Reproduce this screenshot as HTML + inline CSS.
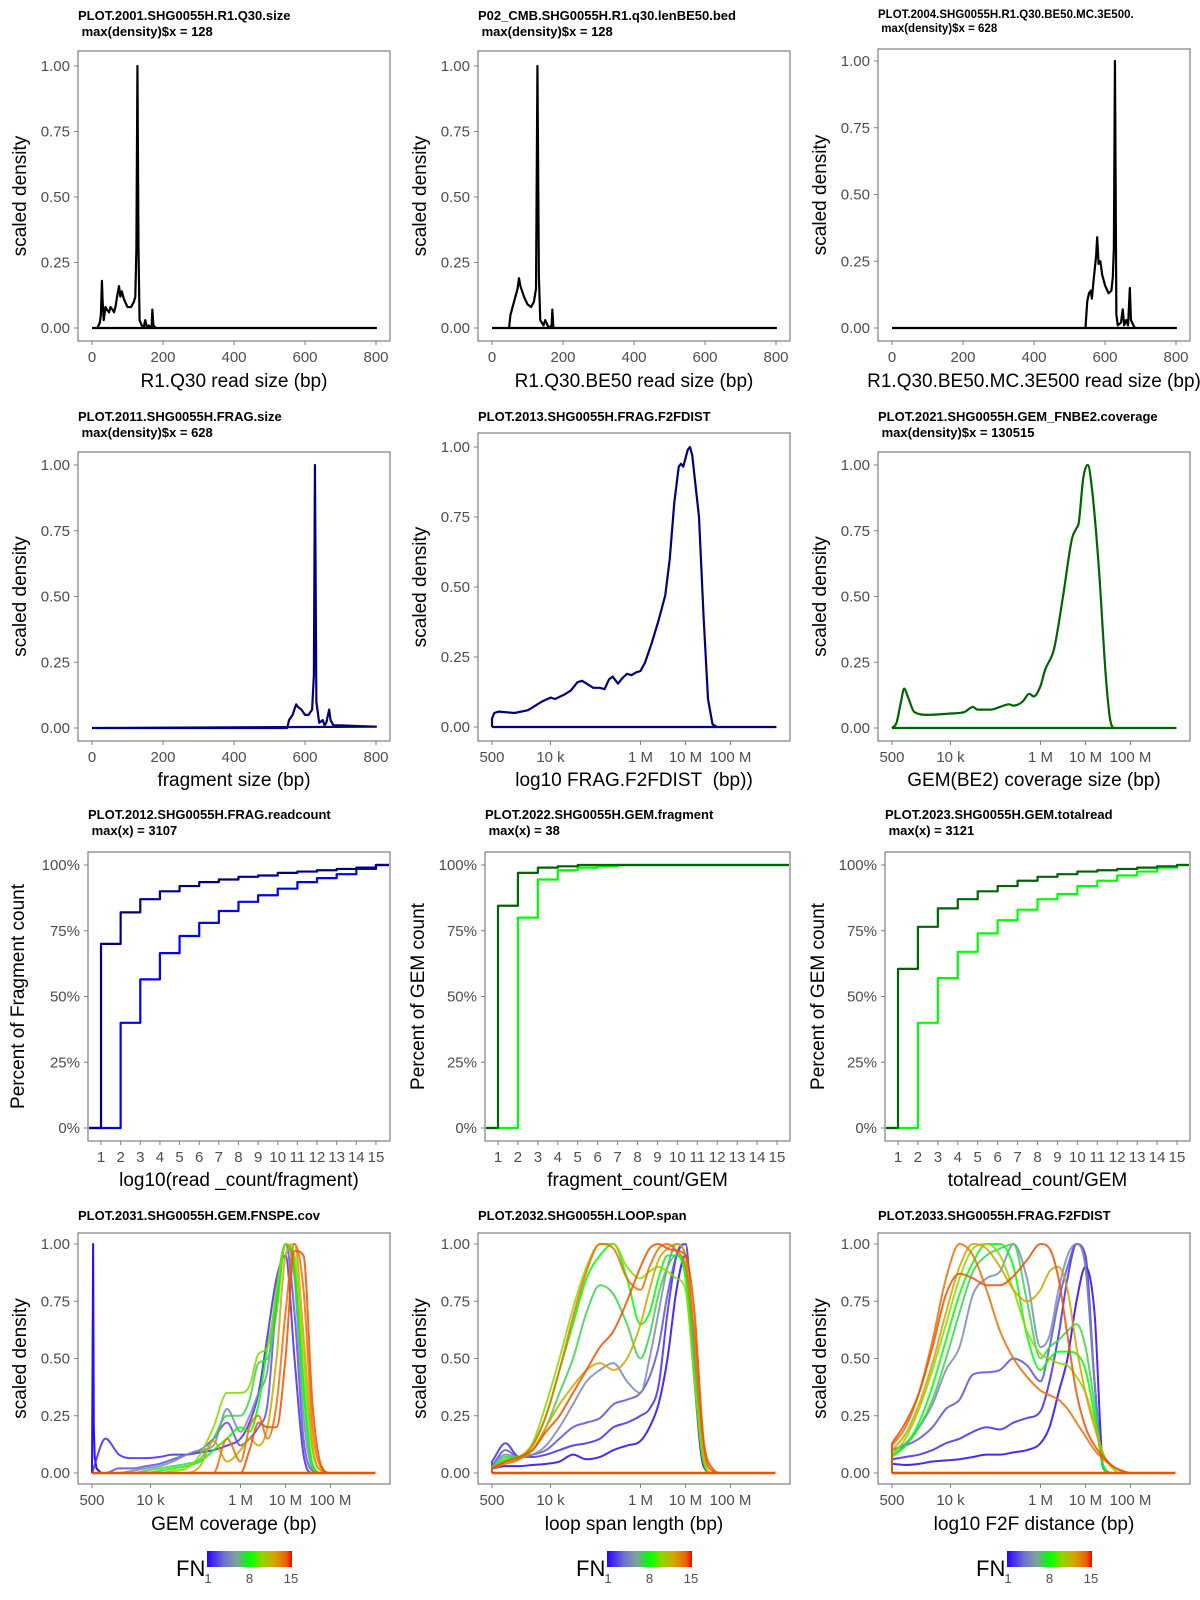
<!DOCTYPE html>
<html>
<head>
<meta charset="utf-8">
<style>
html,body{margin:0;padding:0;background:#fff;}
svg{display:block;font-family:"Liberation Sans",sans-serif;}
</style>
</head>
<body>
<svg id="chart" width="1200" height="1600" viewBox="0 0 1200 1600" xmlns="http://www.w3.org/2000/svg">
<defs>
<linearGradient id="fngrad" x1="0" y1="0" x2="1" y2="0">
<stop offset="0" stop-color="#2a00ff"/><stop offset="0.2" stop-color="#7070d0"/><stop offset="0.35" stop-color="#80a0a0"/><stop offset="0.5" stop-color="#00ff00"/><stop offset="0.65" stop-color="#90d800"/><stop offset="0.8" stop-color="#d8a000"/><stop offset="0.93" stop-color="#f06000"/><stop offset="1" stop-color="#ff0000"/>
</linearGradient>
</defs>
</svg>
<script>
// ---------- DATA ----------
const r1q30X = [0,15,22,25,28,30,33,38,42,48,52,58,62,66,72,76,80,84,90,100,110,118,122,125,128,131,134,140,145,150,155,160,168,170,173,180,800];
const r1q30Y = [0,0,0.02,0.05,0.18,0.1,0.03,0.08,0.07,0.06,0.08,0.07,0.06,0.08,0.13,0.16,0.12,0.14,0.11,0.08,0.08,0.1,0.12,0.3,1.0,0.3,0.03,0.01,0,0.03,0,0.01,0,0.07,0.01,0,0];
const be50X = [0,48,52,58,62,68,72,76,80,85,90,100,110,118,124,128,132,136,145,150,160,168,170,173,800];
const be50Y = [0,0,0.05,0.08,0.1,0.13,0.15,0.19,0.16,0.14,0.12,0.09,0.08,0.1,0.15,1.0,0.2,0.03,0.01,0.03,0,0.01,0.07,0,0];
const mcX = [0,545,550,555,560,563,568,575,578,582,587,592,600,610,618,622,625,628,632,636,645,650,654,660,665,670,673,680,685,800];
const mcY = [0,0,0.1,0.13,0.14,0.11,0.18,0.27,0.34,0.24,0.25,0.2,0.16,0.13,0.14,0.19,0.3,1.0,0.05,0.01,0.02,0.07,0.01,0.03,0.01,0.15,0.03,0.01,0,0];
const fragX = [0,550,555,565,575,580,590,600,610,620,625,628,632,640,650,655,660,668,672,680,700,800];
const fragY = [0,0,0.03,0.05,0.09,0.08,0.07,0.05,0.05,0.07,0.2,1.0,0.1,0.02,0.03,0.01,0.02,0.07,0.03,0.01,0.01,0.005];
const f2fX = [2.7,2.7,2.75,2.85,3.2,3.5,3.8,4.0,4.1,4.3,4.45,4.6,4.7,4.8,4.95,5.1,5.2,5.3,5.38,5.5,5.6,5.7,5.8,5.9,6.0,6.1,6.25,6.4,6.55,6.65,6.75,6.85,6.9,6.95,7.05,7.1,7.15,7.3,7.4,7.5,7.6,7.7,9.0];
const f2fY = [0,0.03,0.05,0.055,0.05,0.06,0.09,0.105,0.1,0.115,0.13,0.16,0.165,0.155,0.14,0.14,0.135,0.17,0.18,0.155,0.175,0.19,0.185,0.195,0.2,0.23,0.3,0.38,0.47,0.6,0.8,0.93,0.94,0.93,0.99,1.0,0.97,0.75,0.4,0.1,0.01,0,0];
const be2X = [2.7,2.8,2.9,2.97,3.05,3.2,3.5,4.0,4.3,4.5,4.6,4.9,5.1,5.3,5.4,5.6,5.75,5.85,6.0,6.1,6.3,6.5,6.7,6.8,6.85,6.95,7.05,7.15,7.3,7.45,7.55,7.65,9.0];
const be2Y = [0,0.02,0.1,0.15,0.12,0.06,0.05,0.055,0.06,0.08,0.07,0.07,0.08,0.09,0.085,0.1,0.13,0.12,0.16,0.22,0.3,0.5,0.72,0.76,0.78,0.95,1.0,0.9,0.6,0.2,0.03,0,0];
const ecdfCats = [1,2,3,4,5,6,7,8,9,10,11,12,13,14,15];
const readcountLog = [0.70,0.82,0.87,0.90,0.92,0.935,0.945,0.955,0.96,0.97,0.975,0.98,0.985,0.99,1.0];
const readcountRaw = [0,0.40,0.565,0.665,0.73,0.78,0.825,0.86,0.885,0.91,0.935,0.95,0.965,0.985,1.0];
const gemFragA = [0.845,0.97,0.99,0.995,1.0,1.0,1.0,1.0,1.0,1.0,1.0,1.0,1.0,1.0,1.0];
const gemFragB = [0,0.80,0.945,0.98,0.99,0.995,1.0,1.0,1.0,1.0,1.0,1.0,1.0,1.0,1.0];
const gemReadA = [0.605,0.765,0.835,0.87,0.90,0.92,0.94,0.955,0.965,0.975,0.98,0.985,0.99,0.995,1.0];
const gemReadB = [0,0.40,0.57,0.67,0.74,0.79,0.83,0.87,0.89,0.92,0.94,0.96,0.975,0.99,1.0];
const fnGrid = [2.7,3.0,3.3,3.6,3.9,4.2,4.5,4.8,5.1,5.4,5.7,6.0,6.2,6.4,6.6,6.8,7.0,7.2,7.4,7.6,7.8,8.0,8.5,9.0];
const fnLevels = [2,3,5,7,8,10,12,14,15];
const cov1X = [2.7,2.71,2.725,2.74,2.76,2.8,2.85,2.9,3.0,9.0];
const cov1Y = [0,0.4,1.0,0.2,0.07,0.02,0.01,0,0,0];
const covFN2  = [0,0.15,0.08,0.065,0.065,0.07,0.08,0.08,0.09,0.1,0.12,0.15,0.22,0.35,0.6,0.85,0.95,0.5,0.08,0,0,0,0,0];
const covFN3  = [0,0,0.02,0.02,0.03,0.04,0.06,0.08,0.1,0.15,0.22,0.12,0.15,0.2,0.3,0.75,1.0,0.7,0.15,0.01,0,0,0,0];
const covFN5  = [0,0,0,0.01,0.02,0.03,0.05,0.08,0.1,0.12,0.28,0.18,0.25,0.35,0.45,0.8,1.0,0.85,0.25,0.02,0,0,0,0];
const covFN7  = [0,0,0,0,0.01,0.02,0.03,0.04,0.06,0.15,0.25,0.25,0.32,0.48,0.5,0.7,1.0,0.9,0.35,0.03,0,0,0,0];
const covFN8  = [0,0,0,0,0,0.01,0.02,0.03,0.05,0.1,0.15,0.2,0.18,0.3,0.55,0.75,1.0,0.9,0.4,0.04,0,0,0,0];
const covFN10 = [0,0,0,0,0,0,0.01,0.02,0.08,0.2,0.35,0.35,0.38,0.52,0.55,0.8,1.0,0.95,0.5,0.1,0.01,0,0,0];
const covFN12 = [0,0,0,0,0,0,0,0,0.03,0.14,0.05,0.1,0.15,0.12,0.2,0.5,0.95,1.0,0.6,0.12,0.01,0,0,0];
const covFN14 = [0,0,0,0,0,0,0,0,0,0,0.15,0.05,0.2,0.25,0.15,0.3,0.7,1.0,0.8,0.2,0.02,0,0,0];
const covFN15 = [0,0,0,0,0,0,0,0,0,0,0,0,0.1,0.22,0.2,0.2,0.5,0.97,0.95,0.3,0.03,0,0,0];
const loopFN1  = [0.02,0.03,0.03,0.035,0.04,0.05,0.08,0.06,0.07,0.1,0.12,0.14,0.2,0.3,0.5,0.8,0.95,0.4,0.03,0,0,0,0,0];
const loopFN2  = [0.05,0.13,0.07,0.07,0.08,0.1,0.12,0.13,0.15,0.2,0.22,0.25,0.28,0.38,0.7,0.95,1.0,0.45,0.04,0,0,0,0,0];
const loopFN3  = [0.03,0.1,0.07,0.08,0.1,0.15,0.2,0.22,0.24,0.3,0.32,0.35,0.42,0.55,0.78,0.95,1.0,0.5,0.05,0,0,0,0,0];
const loopFN5  = [0.03,0.08,0.07,0.08,0.12,0.2,0.3,0.4,0.45,0.48,0.4,0.35,0.5,0.7,0.9,1.0,0.95,0.5,0.05,0,0,0,0,0];
const loopFN7  = [0.02,0.07,0.07,0.1,0.2,0.35,0.5,0.7,0.82,0.78,0.65,0.5,0.6,0.78,0.9,0.95,0.9,0.45,0.05,0,0,0,0,0];
const loopFN8  = [0.02,0.06,0.07,0.12,0.25,0.45,0.65,0.85,0.95,1.0,0.85,0.65,0.7,0.85,0.95,0.95,0.85,0.4,0.05,0,0,0,0,0];
const loopFN10 = [0.02,0.05,0.07,0.13,0.3,0.5,0.72,0.9,1.0,1.0,0.9,0.85,0.88,0.9,0.88,0.85,0.8,0.4,0.06,0,0,0,0,0];
const loopFN12 = [0.02,0.05,0.06,0.1,0.2,0.3,0.38,0.45,0.48,0.45,0.5,0.65,0.8,0.93,0.98,1.0,0.95,0.6,0.1,0.01,0,0,0,0];
const loopFN14 = [0.02,0.04,0.06,0.12,0.25,0.45,0.68,0.88,1.0,0.98,0.85,0.8,0.9,0.98,1.0,0.97,0.9,0.6,0.12,0.01,0,0,0,0];
const loopFN15 = [0.02,0.05,0.07,0.1,0.18,0.25,0.35,0.45,0.55,0.62,0.75,0.9,0.98,1.0,0.98,0.97,0.95,0.7,0.15,0.02,0,0,0,0];
const distFN1  = [0.04,0.035,0.04,0.05,0.055,0.06,0.07,0.08,0.08,0.09,0.1,0.13,0.2,0.35,0.5,0.75,0.9,0.7,0.02,0,0,0,0,0];
const distFN2  = [0.06,0.07,0.08,0.1,0.13,0.15,0.18,0.2,0.19,0.22,0.24,0.27,0.4,0.6,0.85,1.0,0.95,0.4,0.02,0,0,0,0,0];
const distFN3  = [0.1,0.12,0.15,0.2,0.28,0.32,0.43,0.44,0.45,0.5,0.47,0.4,0.55,0.75,0.9,1.0,0.9,0.4,0.02,0,0,0,0,0];
const distFN5  = [0.1,0.13,0.2,0.3,0.45,0.55,0.78,0.85,0.88,1.0,0.85,0.55,0.6,0.8,0.95,1.0,0.9,0.4,0.02,0,0,0,0,0];
const distFN7  = [0.08,0.12,0.2,0.32,0.5,0.7,0.88,0.95,0.98,1.0,0.75,0.5,0.55,0.58,0.62,0.65,0.55,0.3,0.03,0,0,0,0,0];
const distFN8  = [0.07,0.12,0.22,0.38,0.58,0.78,0.92,1.0,1.0,0.9,0.6,0.45,0.5,0.53,0.53,0.52,0.45,0.25,0.03,0,0,0,0,0];
const distFN10 = [0.08,0.15,0.28,0.45,0.65,0.85,0.98,1.0,0.95,0.8,0.62,0.52,0.5,0.48,0.47,0.42,0.35,0.22,0.08,0.02,0,0,0,0];
const distFN12 = [0.1,0.17,0.3,0.48,0.7,0.9,1.0,0.98,0.9,0.8,0.75,0.8,0.88,0.9,0.8,0.55,0.35,0.2,0.08,0.03,0.01,0,0,0];
const distFN14 = [0.12,0.2,0.35,0.58,0.85,1.0,0.95,0.8,0.62,0.5,0.42,0.36,0.34,0.32,0.28,0.22,0.16,0.1,0.06,0.03,0.01,0,0,0];
const distFN15 = [0.13,0.22,0.35,0.55,0.78,0.87,0.85,0.82,0.82,0.86,0.93,1.0,0.98,0.85,0.6,0.35,0.2,0.12,0.07,0.03,0.01,0,0,0];
const linTickVals = [0,200,400,600,800];
const logTickVals = [2.699,4,6,7,8];
const logTickLabels = ["500","10 k","1 M","10 M","100 M"];
const densTickVals = [0,0.25,0.5,0.75,1];
const densTickLabels = ["0.00","0.25","0.50","0.75","1.00"];
const pctTickVals = [0,0.25,0.5,0.75,1];
const pctTickLabels = ["0%","25%","50%","75%","100%"];
const legendTicks = [1,8,15];

// ---------- HELPERS ----------
const svg = document.getElementById('chart');
const NS = 'http://www.w3.org/2000/svg';
const SP = '\u00a0';
function mk(tag, attrs, parent){
  const e = document.createElementNS(NS, tag);
  for (const k in attrs) e.setAttribute(k, attrs[k]);
  (parent||svg).appendChild(e);
  return e;
}
function lin(d0,d1,r0,r1){ return v => r0 + (v-d0)/(d1-d0)*(r1-r0); }
const stops = [[0,[42,0,255]],[0.2,[112,112,208]],[0.35,[128,160,160]],[0.5,[0,255,0]],[0.65,[144,216,0]],[0.8,[216,160,0]],[0.93,[240,110,0]],[1,[240,80,0]]];
function fnColor(fn){
  const t=(fn-1)/14;
  for(let i=1;i<stops.length;i++){
    if(t<=stops[i][0]){
      const a=stops[i-1],b=stops[i],u=(t-a[0])/(b[0]-a[0]);
      const c=a[1].map((v,j)=>Math.round(v+(b[1][j]-v)*u));
      return 'rgb('+c.join(',')+')';
    }
  }
  return 'rgb(240,80,0)';
}
function linePath(xs, ys, sx, sy){
  return xs.map((x,i)=>(i?'L':'M')+sx(x).toFixed(2)+','+sy(ys[i]).toFixed(2)).join('');
}
function monoPath(xs, ys, sx, sy){
  const n=xs.length, px=xs.map(sx), py=ys.map(sy);
  const d=[], m=new Array(n);
  for(let i=0;i<n-1;i++) d.push((py[i+1]-py[i])/(px[i+1]-px[i]));
  m[0]=d[0]; m[n-1]=d[n-2];
  for(let i=1;i<n-1;i++) m[i]=(d[i-1]*d[i]<=0)?0:(d[i-1]+d[i])/2;
  for(let i=0;i<n-1;i++){
    if(d[i]===0){m[i]=0;m[i+1]=0;continue;}
    const a=m[i]/d[i], b=m[i+1]/d[i], s=a*a+b*b;
    if(s>9){const t=3/Math.sqrt(s); m[i]=t*a*d[i]; m[i+1]=t*b*d[i];}
  }
  let p='M'+px[0].toFixed(2)+','+py[0].toFixed(2);
  for(let i=0;i<n-1;i++){
    const h=(px[i+1]-px[i])/3;
    p+='C'+(px[i]+h).toFixed(2)+','+(py[i]+m[i]*h).toFixed(2)+' '+(px[i+1]-h).toFixed(2)+','+(py[i+1]-m[i+1]*h).toFixed(2)+' '+px[i+1].toFixed(2)+','+py[i+1].toFixed(2);
  }
  return p;
}

function frame(c){
  const g = mk('g', {});
  
  
  const box = mk('rect', {x:c.b[0], y:c.b[1], width:c.b[2]-c.b[0], height:c.b[3]-c.b[1], fill:'#fff', stroke:'#7f7f7f', 'stroke-width':1.2}, g);
  
  
  c.title.forEach((t,i)=>{
    const te = mk('text', {x:c.tx, y:c.ty[i], 'font-size':c.tsize, 'font-weight':'bold', fill:'#000'}, g);
    te.textContent = t;
    
    
  });
  c.yt.forEach((v,i)=>{
    const y = c.sy(v);
    const tk = mk('line', {x1:c.b[0]-4, x2:c.b[0], y1:y, y2:y, stroke:'#7f7f7f', 'stroke-width':1}, g);
    
    
    const tl = mk('text', {x:c.b[0]-8, y:y+5, 'font-size':15, fill:'#4d4d4d', 'text-anchor':'end'}, g);
    tl.textContent = c.ytl[i];
    
    
  });
  c.xt.forEach((v,i)=>{
    const x = c.sx(v);
    const tk = mk('line', {x1:x, x2:x, y1:c.b[3], y2:c.b[3]+4, stroke:'#7f7f7f', 'stroke-width':1}, g);
    
    
    const tl = mk('text', {x:x, y:c.tickY, 'font-size':15, fill:'#4d4d4d', 'text-anchor':'middle'}, g);
    tl.textContent = c.xtl[i];
    
    
  });
  const xl = mk('text', {x:(c.b[0]+c.b[2])/2, y:c.xlabY, 'font-size':19, fill:'#000', 'text-anchor':'middle'}, g);
  xl.textContent = c.xlab;
  
  
  const cy=(c.b[1]+c.b[3])/2, cx=c.ylx;
  const yl = mk('text', {x:cx, y:cy, 'font-size':19, fill:'#000', 'text-anchor':'middle', transform:'rotate(-90 '+cx+' '+cy+')'}, g);
  yl.textContent = c.ylab;
  
  
  return g;
}
function addPath(g, d, color, w, name, op){
  const p = mk('path', {d:d, fill:'none', stroke:color, 'stroke-width':w, 'stroke-linejoin':'round', opacity:op||1}, g);
  
  
  return p;
}

// ---------- ROW 1 & 2 linear densities ----------
function linPanel(col, b, y1, y0, title, ty, tsize, xlab, tickY, xlabY, xs, ys, color, name){
  const sx = lin(0,800,92+400*col,376+400*col), sy = lin(0,1,y0,y1);
  const g = frame({name:name, b:b, sx:sx, sy:sy, title:title, tx:78+400*col, ty:ty, tsize:tsize,
    xt:linTickVals, xtl:linTickVals.map(String), yt:densTickVals, ytl:densTickLabels,
    tickY:tickY, xlab:xlab, xlabY:xlabY, ylab:'scaled density', ylx:26+400*col});
  addPath(g, linePath(xs, ys, sx, sy)+'L'+sx(0)+','+sy(0), color, 2.2, 'density-line');
}
linPanel(0,[78,51,390,341],66,328,['PLOT.2001.SHG0055H.R1.Q30.size',SP+'max(density)$x = 128'],[20,36],13,'R1.Q30 read size (bp)',362,387,r1q30X,r1q30Y,'#000','panel-r1q30-size');
linPanel(1,[478,51,790,341],66,328,['P02_CMB.SHG0055H.R1.q30.lenBE50.bed',SP+'max(density)$x = 128'],[20,36],13,'R1.Q30.BE50 read size (bp)',362,387,be50X,be50Y,'#000','panel-be50-size');
linPanel(2,[878,49,1190,341],61,328,['PLOT.2004.SHG0055H.R1.Q30.BE50.MC.3E500.',SP+'max(density)$x = 628'],[18,32],11.5,'R1.Q30.BE50.MC.3E500 read size (bp)',362,387,mcX,mcY,'#000','panel-mc-size');
linPanel(0,[78,452,390,741],465,728,['PLOT.2011.SHG0055H.FRAG.size',SP+'max(density)$x = 628'],[421,437],13,'fragment size (bp)',762,786,fragX,fragY,'#000080','panel-frag-size');

// ---------- log densities ----------
function logFrame(col, b, y1, y0, title, ty, xlab, tickY, xlabY, name){
  const sx = lin(2.7,9.0,92+400*col,92+400*col+6.3*45), sy = lin(0,1,y0,y1);
  const g = frame({name:name, b:b, sx:sx, sy:sy, title:title, tx:b[0], ty:ty, tsize:13,
    xt:logTickVals, xtl:logTickLabels, yt:densTickVals, ytl:densTickLabels,
    tickY:tickY, xlab:xlab, xlabY:xlabY, ylab:'scaled density', ylx:26+400*col});
  return {g:g, sx:sx, sy:sy};
}
let P = logFrame(1,[478,433,790,741],447,727,['PLOT.2013.SHG0055H.FRAG.F2FDIST'],[421],'log10 FRAG.F2FDIST'+SP+SP+'(bp))',762,786,'panel-frag-f2fdist');
addPath(P.g, linePath(f2fX,f2fY,P.sx,P.sy)+'L'+P.sx(2.7)+','+P.sy(0), '#000080', 2.2, 'density-line');
P = logFrame(2,[878,452,1190,741],465,728,['PLOT.2021.SHG0055H.GEM_FNBE2.coverage',SP+'max(density)$x = 130515'],[421,437],'GEM(BE2) coverage size (bp)',762,786,'panel-gem-be2-coverage');
addPath(P.g, monoPath(be2X,be2Y,P.sx,P.sy)+'L'+P.sx(2.7)+','+P.sy(0), '#006400', 2.2, 'density-line');

// ---------- ECDF ----------
function ecdfPanel(col, b, t1, t2, xlab, ylab, seriesA, colA, seriesB, colB, name){
  const x1 = b[0]+13, sx = lin(1,15,x1,x1+14*(col===0?19.64:19.93)), sy = lin(0,1,1128,865);
  const g = frame({name:name, b:b, sx:sx, sy:sy, title:[t1,t2], tx:b[0], ty:[819,835], tsize:13,
    xt:ecdfCats, xtl:ecdfCats.map(String), yt:pctTickVals, ytl:pctTickLabels,
    tickY:1162, xlab:xlab, xlabY:1186, ylab:ylab, ylx:24+400*col});
  [[seriesB,colB,'ecdf-line-raw'],[seriesA,colA,'ecdf-line-log']].forEach(s=>{
    let d='M'+(b[0]+1)+','+sy(0);
    ecdfCats.forEach((k,i)=>{ const prev = i?s[0][i-1]:0; d+='L'+sx(k)+','+sy(prev)+'L'+sx(k)+','+sy(s[0][i]); });
    d+='L'+(b[2]-1)+','+sy(s[0][s[0].length-1]);
    addPath(g, d, s[1], 2.2, s[2]);
  });
}
ecdfPanel(0,[88,852,390,1141],'PLOT.2012.SHG0055H.FRAG.readcount',SP+'max(x) = 3107','log10(read _count/fragment)','Percent of Fragment count',readcountLog,'#000080',readcountRaw,'#0000ff','panel-frag-readcount');
ecdfPanel(1,[485,852,790,1141],'PLOT.2022.SHG0055H.GEM.fragment',SP+'max(x) = 38','fragment_count/GEM','Percent of GEM count',gemFragA,'#006400',gemFragB,'#00ff00','panel-gem-fragment');
ecdfPanel(2,[885,852,1190,1141],'PLOT.2023.SHG0055H.GEM.totalread',SP+'max(x) = 3121','totalread_count/GEM','Percent of GEM count',gemReadA,'#006400',gemReadB,'#00ff00','panel-gem-totalread');

// ---------- FN panels ----------
function fnPanel(col, title, xlab, series, levels, extra, name){
  const P = logFrame(col,[78+400*col,1233,390+400*col,1484],1244,1473,[title],[1220],xlab,1505,1530,name);
  const g = P.g;
  if (extra) addPath(g, linePath(extra[0],extra[1],P.sx,P.sy), '#1a00ff', 2, 'fn-1-line', 0.95);
  series.forEach((ys,i)=>{
    const d = 'M'+P.sx(2.7)+','+P.sy(0)+'L'+monoPath(fnGrid, ys, P.sx, P.sy).slice(1);
    addPath(g, d, fnColor(levels[i]), 2, 'fn-'+levels[i]+'-line', 0.85);
  });
  addPath(g, 'M'+P.sx(2.7)+','+P.sy(0)+'L'+P.sx(9.0)+','+P.sy(0), fnColor(15), 2.5, 'density-baseline');
  const lx = 207+400*col;
  const lg = mk('g', {});
  
  
  const lt = mk('text', {x:lx-31, y:1576, 'font-size':22, fill:'#000'}, lg);
  lt.textContent = 'FN';
  
  
  const bar = mk('rect', {x:lx, y:1551, width:85, height:16, fill:'url(#fngrad)'}, lg);
  
  
  legendTicks.forEach(v=>{
    const x = lx + 1 + (v-1)/14*83;
    const tl = mk('text', {x:x, y:1583, 'font-size':13, fill:'#4d4d4d', 'text-anchor':'middle'}, lg);
    tl.textContent = String(v);
    
    
  });
}
fnPanel(0,'PLOT.2031.SHG0055H.GEM.FNSPE.cov','GEM coverage (bp)',[covFN2,covFN3,covFN5,covFN7,covFN8,covFN10,covFN12,covFN14,covFN15],fnLevels,[cov1X,cov1Y],'panel-gem-fnspe-cov');
fnPanel(1,'PLOT.2032.SHG0055H.LOOP.span','loop span length (bp)',[loopFN1,loopFN2,loopFN3,loopFN5,loopFN7,loopFN8,loopFN10,loopFN12,loopFN14,loopFN15],[1].concat(fnLevels),null,'panel-loop-span');
fnPanel(2,'PLOT.2033.SHG0055H.FRAG.F2FDIST','log10 F2F distance (bp)',[distFN1,distFN2,distFN3,distFN5,distFN7,distFN8,distFN10,distFN12,distFN14,distFN15],[1].concat(fnLevels),null,'panel-frag-f2f-distance');
</script>
</body>
</html>
